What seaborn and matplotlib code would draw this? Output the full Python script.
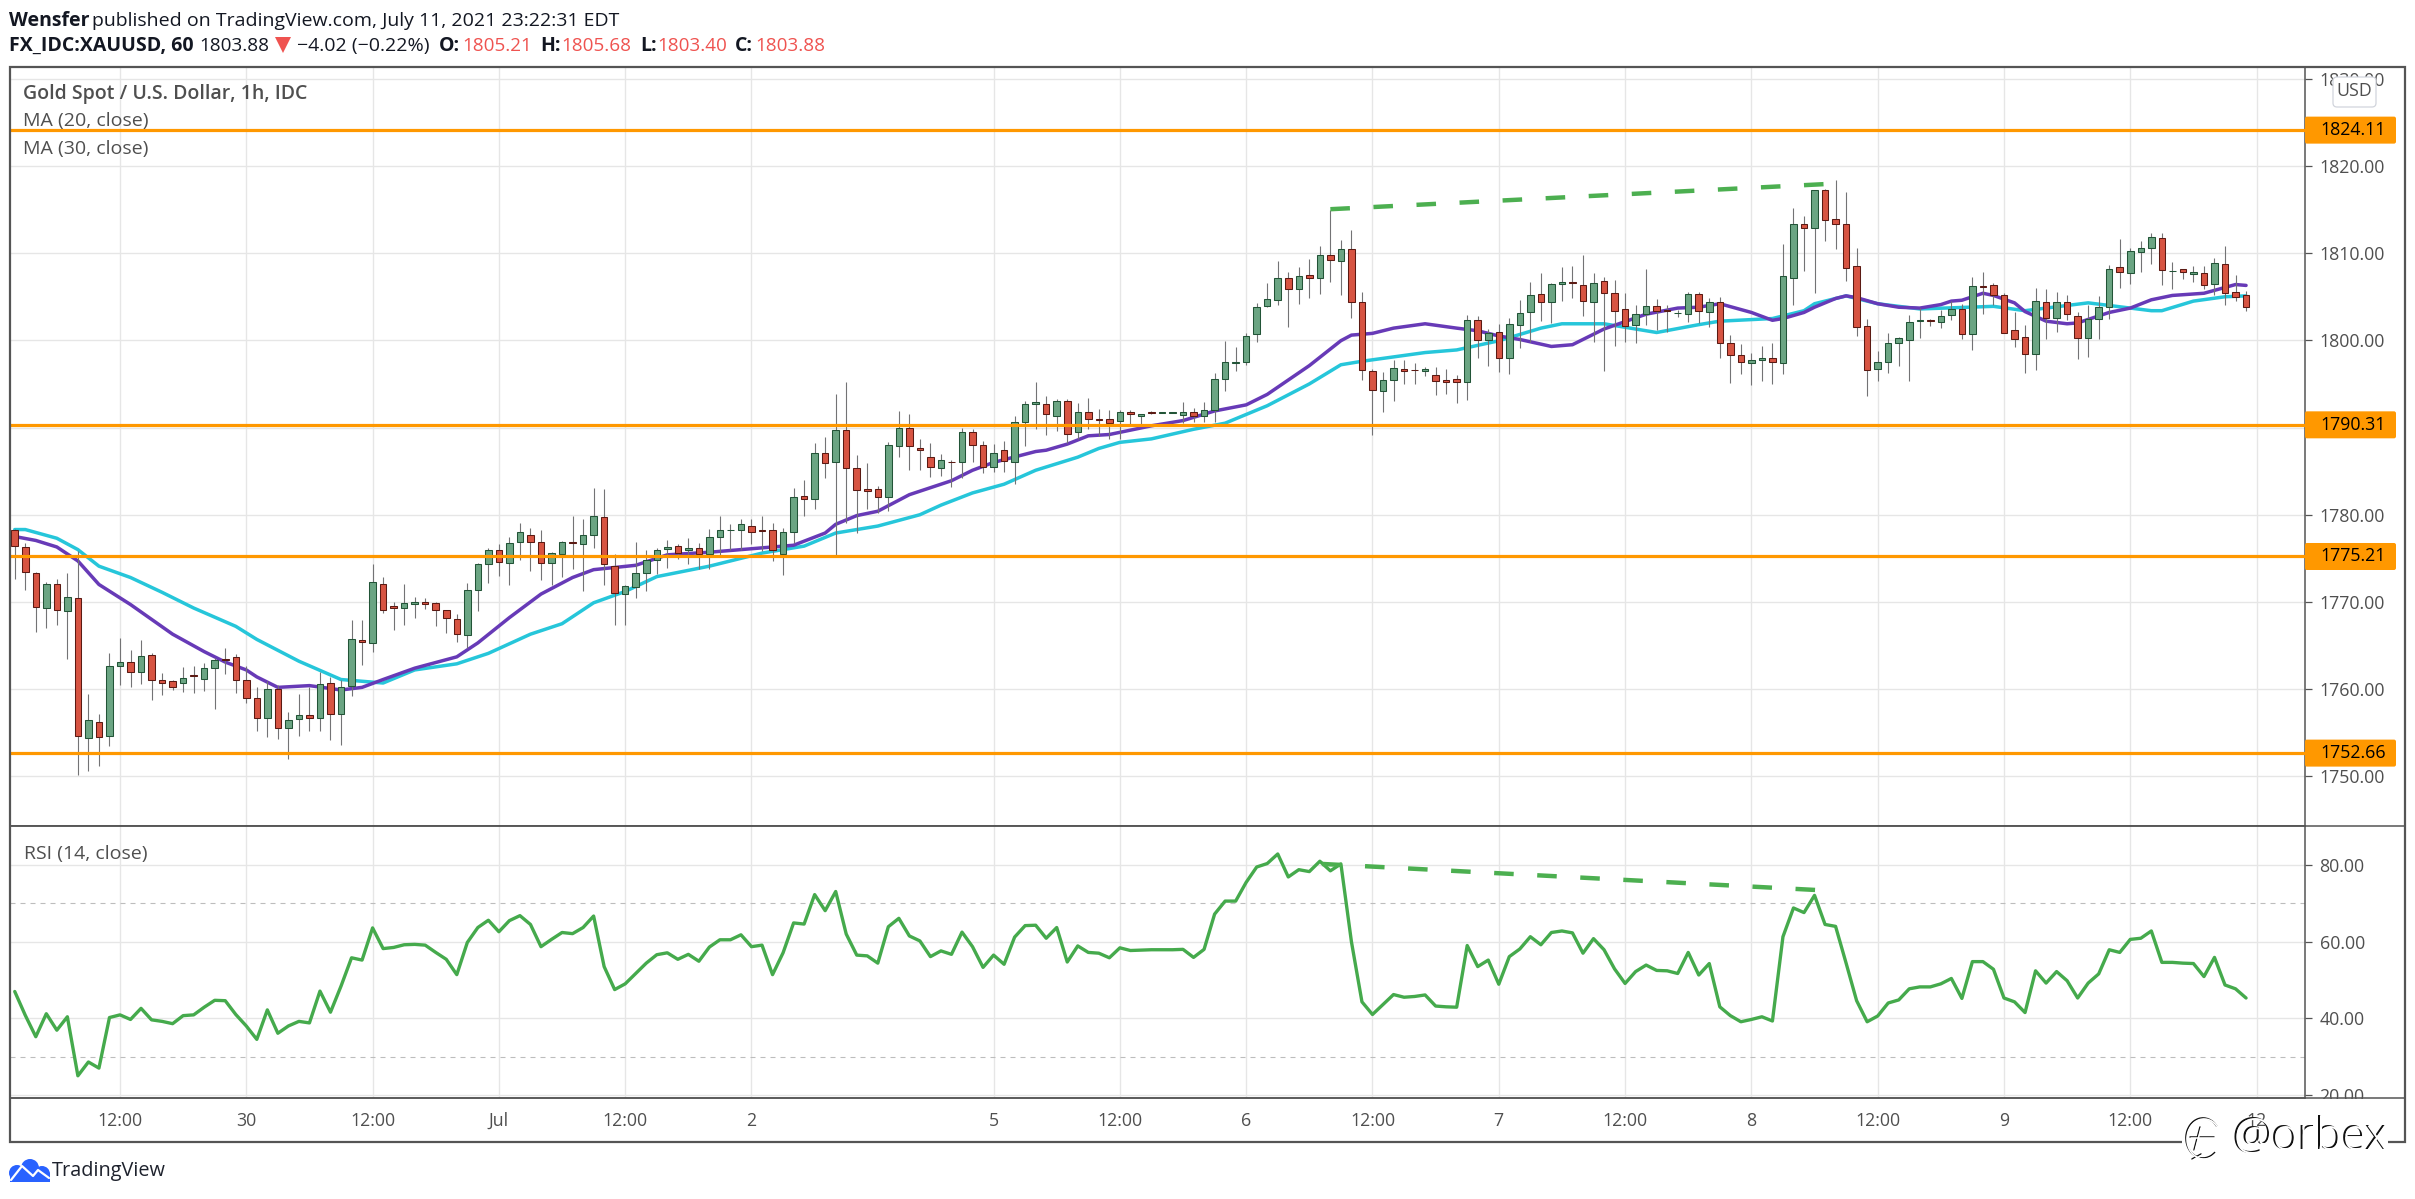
import matplotlib
matplotlib.use('Agg')
import matplotlib.pyplot as plt
import pandas as pd
import seaborn as sns
from matplotlib.lines import Line2D
from matplotlib.patches import Circle, FancyBboxPatch, PathPatch, Polygon, Rectangle
from matplotlib.path import Path
from matplotlib.transforms import Affine2D, IdentityTransform

# Hourly candles
opens = [
    1778.2, 1776.3, 1773.3, 1769.3, 1772.0, 1769.0, 1770.4, 1754.4, 1756.2, 1754.6,
    1762.7, 1763.1, 1762.0, 1763.9, 1761.0, 1760.9, 1760.7, 1761.6, 1761.2, 1762.4,
    1763.4, 1763.7, 1761.0, 1759.0, 1756.7, 1760.0, 1755.5, 1756.6, 1757.0, 1756.7,
    1760.7, 1757.1, 1760.3, 1765.6, 1765.3, 1772.0, 1769.5, 1769.3, 1769.8, 1770.0,
    1769.9, 1769.1, 1768.05, 1766.2, 1771.4, 1774.4, 1775.9, 1774.5, 1776.9, 1777.7,
    1776.9, 1774.5, 1775.5, 1776.9, 1776.7, 1777.7, 1779.7, 1774.1, 1770.9, 1771.7,
    1773.3, 1774.8, 1776.1, 1776.4, 1775.9, 1776.2, 1775.5, 1777.4, 1778.2, 1778.3,
    1778.7, 1778.2, 1778.2, 1775.5, 1778.05, 1782.1, 1781.8, 1787.1, 1786.0, 1789.7,
    1785.4, 1782.9, 1782.9, 1782.0, 1787.9, 1789.9, 1787.6, 1786.6, 1785.4, 1786.1,
    1786.0, 1789.5, 1788.05, 1785.5, 1787.4, 1786.1, 1790.6, 1792.65, 1792.65, 1791.3,
    1793.1, 1789.5, 1791.8, 1791.0, 1791.0, 1790.8, 1791.8, 1791.3, 1791.8, 1791.7,
    1791.7, 1791.4, 1791.8, 1791.3, 1792.0, 1795.6, 1797.4, 1797.5, 1800.7, 1803.9,
    1804.6, 1807.2, 1805.9, 1807.5, 1807.2, 1809.8, 1809.1, 1810.5, 1804.4, 1796.5,
    1794.2, 1795.4, 1796.7, 1796.6, 1796.5, 1796.0, 1795.4, 1795.6, 1795.2, 1802.3,
    1800.0, 1801.0, 1798.0, 1801.8, 1803.2, 1805.3, 1804.4, 1806.45, 1806.7, 1806.3,
    1804.4, 1806.8, 1805.4, 1803.6, 1801.75, 1803.0, 1803.9, 1803.5, 1803.1, 1803.0,
    1805.3, 1803.2, 1804.4, 1799.7, 1798.3, 1797.4, 1797.7, 1798.0, 1797.4, 1807.1,
    1813.3, 1812.9, 1817.3, 1813.9, 1813.3, 1808.5, 1801.6, 1796.7, 1797.5, 1799.7,
    1800.0, 1802.2, 1802.3, 1802.1, 1802.9, 1803.6, 1800.7, 1806.2, 1806.3, 1805.2,
    1801.2, 1800.4, 1798.4, 1804.4, 1802.55, 1804.4, 1802.8, 1800.3, 1802.4, 1803.8,
    1808.4, 1807.7, 1810.1, 1810.6, 1811.7, 1807.9, 1808.2, 1807.6, 1807.7, 1806.45,
    1808.7, 1805.5, 1805.21,
]
closes = [
    1776.4, 1773.4, 1769.4, 1772.0, 1769.1, 1770.6, 1754.6, 1756.4, 1754.5, 1762.7,
    1763.1, 1762.0, 1763.8, 1761.0, 1760.7, 1760.2, 1761.3, 1761.5, 1762.4, 1763.3,
    1763.3, 1761.0, 1759.0, 1756.7, 1760.0, 1755.5, 1756.4, 1757.0, 1756.7, 1760.6,
    1757.1, 1760.2, 1765.7, 1765.4, 1772.3, 1769.1, 1769.3, 1769.9, 1770.0, 1769.8,
    1769.1, 1768.2, 1766.3, 1771.4, 1774.3, 1776.0, 1774.6, 1776.8, 1778.0, 1776.9,
    1774.5, 1775.6, 1776.9, 1776.8, 1777.7, 1779.8, 1774.3, 1771.0, 1771.8, 1773.3,
    1774.8, 1776.0, 1776.3, 1775.6, 1776.2, 1775.5, 1777.4, 1778.3, 1778.3, 1778.9,
    1778.05, 1778.1, 1775.9, 1778.05, 1782.0, 1781.8, 1787.1, 1785.9, 1789.7, 1785.4,
    1782.8, 1782.7, 1782.0, 1788.05, 1790.0, 1787.9, 1787.4, 1785.5, 1786.3, 1786.0,
    1789.5, 1788.05, 1785.5, 1787.1, 1786.2, 1790.6, 1792.65, 1792.9, 1791.5, 1793.1,
    1789.3, 1791.8, 1791.0, 1790.9, 1790.5, 1791.8, 1791.6, 1791.6, 1791.7, 1791.75,
    1791.75, 1791.75, 1791.3, 1792.0, 1795.6, 1797.5, 1797.5, 1800.5, 1803.8, 1804.7,
    1807.2, 1805.9, 1807.4, 1807.2, 1809.8, 1809.2, 1810.5, 1804.4, 1796.6, 1794.3,
    1795.4, 1796.8, 1796.5, 1796.56, 1796.7, 1795.3, 1795.2, 1795.2, 1802.3, 1800.0,
    1800.8, 1798.0, 1801.9, 1803.1, 1805.2, 1804.4, 1806.45, 1806.7, 1806.6, 1804.5,
    1806.6, 1805.4, 1803.35, 1801.6, 1803.0, 1803.9, 1803.35, 1803.35, 1803.15, 1805.3,
    1803.35, 1804.4, 1799.7, 1798.3, 1797.5, 1797.7, 1798.0, 1797.5, 1807.4, 1813.3,
    1812.9, 1817.2, 1813.8, 1813.4, 1808.3, 1801.5, 1796.6, 1797.5, 1799.7, 1800.3,
    1802.1, 1802.3, 1802.25, 1802.8, 1803.6, 1800.7, 1806.2, 1806.15, 1805.2, 1800.8,
    1800.15, 1798.4, 1804.5, 1802.55, 1804.4, 1803.0, 1800.3, 1802.4, 1803.8, 1808.2,
    1807.8, 1810.3, 1810.6, 1811.9, 1808.05, 1808.0, 1807.8, 1807.8, 1806.3, 1808.85,
    1805.4, 1805.0, 1803.88,
]
highs = [
    1778.4, 1776.8, 1773.4, 1772.3, 1772.6, 1773.3, 1775.8, 1759.4, 1757.1, 1764.1,
    1765.9, 1764.5, 1765.6, 1764.1, 1761.8, 1761.0, 1762.5, 1762.6, 1763.0, 1763.6,
    1764.7, 1764.0, 1762.7, 1760.2, 1760.9, 1760.5, 1757.4, 1759.4, 1760.2, 1762.0,
    1761.4, 1761.1, 1767.9, 1767.9, 1774.4, 1772.9, 1770.0, 1772.1, 1770.6, 1770.4,
    1770.0, 1769.1, 1768.6, 1772.2, 1774.5, 1776.2, 1776.7, 1777.4, 1779.1, 1778.5,
    1778.3, 1775.7, 1777.0, 1779.9, 1779.5, 1783.1, 1782.9, 1775.5, 1771.9, 1776.9,
    1775.9, 1776.2, 1777.05, 1776.7, 1777.3, 1776.8, 1778.4, 1779.9, 1778.9, 1779.5,
    1779.5, 1779.8, 1779.0, 1778.5, 1783.1, 1784.0, 1788.2, 1788.9, 1793.9, 1795.2,
    1786.8, 1785.9, 1783.3, 1788.3, 1791.9, 1791.5, 1788.7, 1788.2, 1787.0, 1786.3,
    1790.0, 1789.8, 1788.5, 1788.1, 1788.4, 1791.3, 1793.1, 1795.2, 1793.6, 1793.3,
    1793.3, 1792.8, 1793.4, 1792.1, 1792.0, 1792.0, 1791.96, 1791.6, 1791.9, 1791.8,
    1791.8, 1792.9, 1792.2, 1792.9, 1796.3, 1799.9, 1799.2, 1800.8, 1804.3, 1806.6,
    1809.1, 1807.8, 1808.4, 1809.3, 1810.8, 1815.0, 1811.5, 1812.6, 1805.6, 1796.7,
    1796.4, 1797.7, 1797.7, 1797.4, 1796.9, 1796.9, 1796.7, 1796.0, 1802.9, 1802.8,
    1801.3, 1801.9, 1802.6, 1804.65, 1806.7, 1807.75, 1806.6, 1808.4, 1808.5, 1809.8,
    1807.75, 1807.25, 1806.9, 1805.4, 1804.1, 1808.2, 1804.7, 1804.1, 1803.5, 1805.6,
    1805.6, 1804.8, 1805.0, 1800.6, 1799.6, 1798.5, 1799.4, 1799.7, 1811.0, 1815.2,
    1814.3, 1817.2, 1817.4, 1818.4, 1817.0, 1810.6, 1802.4, 1798.8, 1800.8, 1800.4,
    1802.9, 1803.7, 1802.4, 1803.5, 1804.5, 1804.2, 1807.25, 1807.8, 1806.6, 1805.4,
    1803.2, 1801.75, 1806.0, 1805.9, 1805.6, 1805.2, 1803.2, 1804.0, 1805.1, 1808.6,
    1811.6, 1810.6, 1811.4, 1812.3, 1812.3, 1809.0, 1808.2, 1808.5, 1808.5, 1809.4,
    1810.8, 1807.5, 1805.68,
]
lows = [
    1772.6, 1771.4, 1766.6, 1767.0, 1767.3, 1763.4, 1750.2, 1750.6, 1751.2, 1753.5,
    1760.5, 1760.2, 1760.6, 1758.8, 1759.3, 1759.9, 1759.7, 1759.5, 1759.8, 1757.7,
    1761.7, 1759.6, 1758.4, 1755.2, 1754.5, 1754.3, 1752.0, 1754.6, 1755.2, 1755.2,
    1754.2, 1753.6, 1759.2, 1762.8, 1764.3, 1768.7, 1766.8, 1767.4, 1768.2, 1769.2,
    1767.2, 1766.4, 1765.4, 1764.7, 1769.0, 1772.2, 1773.0, 1771.9, 1774.8, 1773.6,
    1772.5, 1771.9, 1772.9, 1773.8, 1771.3, 1776.2, 1771.9, 1767.4, 1767.4, 1770.5,
    1771.3, 1773.2, 1773.9, 1774.9, 1774.4, 1773.8, 1773.8, 1775.4, 1776.0, 1776.0,
    1776.7, 1775.8, 1774.7, 1773.1, 1776.8, 1779.9, 1780.6, 1784.2, 1775.4, 1779.0,
    1777.9, 1780.6, 1780.2, 1780.4, 1786.6, 1785.1, 1785.1, 1784.3, 1784.4, 1783.2,
    1784.2, 1786.0, 1784.8, 1784.9, 1784.9, 1783.5, 1787.9, 1789.8, 1789.1, 1789.6,
    1788.2, 1788.7, 1789.8, 1789.05, 1788.7, 1788.7, 1790.4, 1790.4, 1791.5, 1791.65,
    1791.65, 1790.5, 1790.6, 1790.6, 1790.6, 1794.2, 1796.5, 1797.2, 1799.8, 1803.8,
    1804.0, 1801.5, 1804.2, 1804.9, 1805.3, 1806.7, 1805.2, 1802.6, 1795.5, 1789.2,
    1791.75, 1793.0, 1795.0, 1795.0, 1795.9, 1793.7, 1793.8, 1792.8, 1793.2, 1798.0,
    1797.1, 1796.4, 1796.1, 1799.1, 1799.8, 1802.25, 1802.0, 1804.5, 1804.8, 1802.8,
    1799.8, 1796.5, 1799.4, 1799.8, 1799.7, 1801.8, 1801.2, 1801.0, 1802.7, 1802.1,
    1802.0, 1801.5, 1798.0, 1795.1, 1796.1, 1794.9, 1795.3, 1795.0, 1796.1, 1804.0,
    1807.9, 1805.4, 1811.4, 1810.5, 1806.8, 1800.5, 1793.6, 1795.3, 1796.2, 1797.1,
    1795.3, 1800.3, 1801.7, 1801.4, 1802.3, 1800.2, 1798.9, 1803.05, 1804.0, 1800.8,
    1799.2, 1796.2, 1796.6, 1800.2, 1801.0, 1802.3, 1797.9, 1798.1, 1800.2, 1802.5,
    1806.0, 1806.5, 1807.8, 1808.7, 1806.4, 1805.9, 1807.0, 1806.7, 1805.9, 1805.2,
    1804.0, 1804.5, 1803.40,
]

# RSI, one value per bar
rsi = [
    47.0, 40.8, 35.2, 41.2, 36.9, 40.4, 25.0, 28.6, 27.0, 40.2,
    40.9, 39.7, 42.6, 39.6, 39.2, 38.6, 40.7, 40.9, 42.9, 44.7,
    44.6, 41.0, 38.0, 34.5, 42.2, 36.1, 38.0, 39.2, 38.8, 47.1,
    41.6, 48.4, 55.8, 55.2, 63.6, 58.2, 58.5, 59.2, 59.3, 59.1,
    57.2, 55.4, 51.4, 59.8, 63.7, 65.6, 62.6, 65.5, 66.8, 64.5,
    58.7, 60.6, 62.4, 62.1, 63.7, 66.7, 53.5, 47.5, 49.0, 51.7,
    54.4, 56.6, 57.1, 55.4, 56.7, 54.9, 58.6, 60.5, 60.5, 61.8,
    58.7, 59.1, 51.4, 57.1, 64.9, 64.6, 72.3, 68.1, 73.1, 62.0,
    56.5, 56.3, 54.4, 63.9, 66.1, 61.5, 60.2, 56.1, 57.6, 56.7,
    62.5, 58.7, 53.3, 56.5, 54.1, 61.2, 64.2, 64.3, 60.9, 63.7,
    54.7, 58.9, 57.2, 57.0, 55.8, 58.4, 57.7, 57.8, 57.9, 57.9,
    57.9, 58.0, 55.9, 58.0, 67.2, 70.6, 70.6, 75.5, 79.5, 80.4,
    82.9, 76.9, 78.8, 78.3, 81.0, 78.5, 80.3, 60.0, 44.3, 41.0,
    43.6, 46.2, 45.5, 45.7, 46.1, 43.2, 43.0, 42.9, 59.0, 53.5,
    55.2, 48.9, 56.1, 58.1, 61.3, 59.2, 62.4, 62.8, 62.3, 57.0,
    60.8, 57.9, 52.9, 49.1, 52.2, 53.9, 52.5, 52.4, 51.7, 57.2,
    51.3, 54.3, 43.0, 40.7, 39.1, 39.7, 40.4, 39.3, 61.3, 68.8,
    67.6, 72.1, 64.5, 64.0, 54.4, 44.6, 39.1, 40.6, 44.0, 44.8,
    47.7, 48.2, 48.2, 49.0, 50.4, 45.2, 54.8, 54.8, 52.8, 45.3,
    44.3, 41.5, 52.4, 49.2, 52.2, 49.8, 45.3, 49.2, 51.6, 57.9,
    57.2, 60.6, 60.9, 62.8, 54.6, 54.6, 54.4, 54.3, 50.9, 55.9,
    48.7, 47.7, 45.3,
]

# Moving averages, read at the bends of each line
ma20_bars = [0, 2, 4, 6, 8, 11, 13, 15, 18, 20, 22, 23, 25, 28, 31, 33, 35, 38, 42, 44,
             47, 50, 53, 55, 59, 62, 66, 71, 74, 77, 78, 80, 82, 85, 89, 91, 93, 97, 98, 100,
             102, 104, 108, 111, 114, 117, 119, 123, 126, 127, 129, 131, 134, 137, 139, 141, 143, 146, 148, 151,
             155, 158, 160, 162, 165, 167, 168, 170, 171, 173, 174, 175, 177, 179, 181, 183, 184, 185, 187, 188,
             190, 191, 193, 195, 196, 197, 199, 201, 203, 205, 208, 211, 212]
ma20_vals = [1777.5, 1777.05, 1776.3, 1774.7, 1772.0, 1769.7, 1768.0, 1766.3, 1764.3, 1763.1,
             1762.2, 1761.4, 1760.2, 1760.4, 1759.9, 1760.2, 1761.1, 1762.4, 1763.7, 1765.3,
             1768.2, 1770.9, 1772.8, 1773.7, 1774.2, 1775.4, 1775.7, 1776.2, 1776.5, 1777.9,
             1778.9, 1779.9, 1780.4, 1782.3, 1783.9, 1785.1, 1786.0, 1787.25, 1787.4, 1788.1,
             1789.05, 1789.2, 1790.2, 1790.8, 1791.9, 1792.6, 1793.8, 1797.1, 1799.96, 1800.6,
             1800.8, 1801.4, 1801.9, 1801.4, 1801.1, 1800.5, 1800.1, 1799.3, 1799.5, 1801.3,
             1803.0, 1803.7, 1803.8, 1804.2, 1803.2, 1802.3, 1802.5, 1803.2, 1803.8, 1804.8,
             1805.1, 1804.9, 1804.2, 1803.8, 1803.7, 1804.1, 1804.5, 1804.6, 1805.4, 1805.15,
             1804.3, 1803.3, 1802.2, 1801.9, 1802.0, 1802.4, 1803.2, 1803.7, 1804.65, 1805.15,
             1805.4, 1806.4, 1806.3]
ma30_bars = [0, 1, 4, 6, 8, 11, 14, 17, 21, 23, 27, 31, 35, 38, 42, 45, 49, 52, 55, 58,
             61, 66, 71, 75, 78, 82, 86, 88, 91, 94, 97, 101, 103, 105, 108, 112, 115, 119, 123, 126,
             128, 134, 137, 141, 145, 147, 151, 156, 160, 162, 167, 170, 171, 173, 174, 177, 181, 188, 191, 197,
             203, 204, 207, 210, 212]
ma30_vals = [1778.3, 1778.3, 1777.3, 1776.0, 1774.1, 1772.8, 1771.1, 1769.3, 1767.2, 1765.7,
             1763.2, 1761.1, 1760.7, 1762.2, 1762.9, 1764.1, 1766.3, 1767.5, 1769.9, 1771.2,
             1772.9, 1774.1, 1775.6, 1776.4, 1777.9, 1778.7, 1780.0, 1781.1, 1782.5, 1783.5,
             1785.1, 1786.6, 1787.6, 1788.3, 1788.7, 1789.8, 1790.5, 1792.5, 1795.0, 1797.2,
             1797.6, 1798.6, 1798.9, 1799.95, 1801.4, 1801.9, 1801.9, 1800.9, 1801.8, 1802.2,
             1802.5, 1803.4, 1804.2, 1804.8, 1805.1, 1804.2, 1803.6, 1803.9, 1803.4, 1804.3,
             1803.4, 1803.4, 1804.5, 1805.0, 1805.1]

# Drawn lines on the chart
levels = [1824.11, 1790.31, 1775.21, 1752.66]
price_trend_bars = [125, 172.8]
price_trend_vals = [1815.04, 1817.97]
rsi_trend_bars = [124.2, 171.8]
rsi_trend_vals = [80.3, 73.4]

# Axis labels
price_ticks = [1750, 1760, 1770, 1780, 1790, 1800, 1810, 1820, 1830]
price_tick_labels = ['1750.00', '1760.00', '1770.00', '1780.00', '', '1800.00', '1810.00', '1820.00', '1830.00']
rsi_ticks = [20, 40, 60, 80]
rsi_tick_labels = ['20.00', '40.00', '60.00', '80.00']
x_ticks = [10, 22, 34, 46, 58, 70, 93, 105, 117, 129, 141, 153, 165, 177, 189, 201, 213]
x_tick_labels = ['12:00', '30', '12:00', 'Jul', '12:00', '2', '5', '12:00', '6', '12:00',
                 '7', '12:00', '8', '12:00', '9', '12:00', '12']

W, H = 2415, 1199
FRAME = '#555555'
GRID = '#e6e6e6'
TXT = '#4f4f4f'
ORANGE = '#ff9800'
FS = 12.8
FS_HEAD = 14

sns.set_theme(style='white')
plt.rcParams['font.family'] = ['Open Sans', 'DejaVu Sans']

fig = plt.figure(figsize=(W / 100, H / 100), dpi=100, facecolor='white')
px = IdentityTransform()


def pane(x0, y0, x1, y1):
    return fig.add_axes([x0 / W, 1 - y1 / H, (x1 - x0) / W, (y1 - y0) / H])


def label(x, y, s, color='#131722', size=FS, weight='normal', ha='left', zorder=10):
    return fig.text(x, H - y, s, color=color, fontsize=size, fontweight=weight, ha=ha,
                    va='center', transform=px, zorder=zorder)


ax_price = pane(10, 67, 2305, 826)
ax_rsi = pane(10, 826, 2305, 1098)

df = pd.DataFrame({'bar': range(len(opens)), 'open': opens, 'high': highs, 'low': lows, 'close': closes, 'rsi': rsi})
up = df[df['close'] >= df['open']]
down = df[df['close'] < df['open']]

# Price pane
sns.lineplot(x=ma30_bars, y=ma30_vals, ax=ax_price, color='#26c6da', linewidth=2.5, zorder=2)
sns.lineplot(x=ma20_bars, y=ma20_vals, ax=ax_price, color='#673ab7', linewidth=2.5, zorder=2.1)
ax_price.vlines(df['bar'], df['low'], df['high'], colors='#737375', linewidth=0.8, zorder=2.5)
ax_price.bar(up['bar'], up['close'] - up['open'], bottom=up['open'], width=0.62,
             color='#6ba583', edgecolor='#225437', linewidth=0.75, zorder=3)
ax_price.bar(down['bar'], down['close'] - down['open'], bottom=down['open'], width=0.62,
             color='#d75442', edgecolor='#5b1a13', linewidth=0.75, zorder=3)
for lvl in levels:
    ax_price.axhline(lvl, color=ORANGE, linewidth=2.3, zorder=5)
sns.lineplot(x=price_trend_bars, y=price_trend_vals, ax=ax_price, color='#4caf50', linewidth=3.2,
             linestyle=(0, (4.4, 5.3)), zorder=5)

# RSI pane
for band in [70, 30]:
    ax_rsi.axhline(band, color='#bdbdbd', linewidth=0.8, linestyle=(0, (4.5, 4.5)), zorder=1.5)
sns.lineplot(data=df, x='bar', y='rsi', ax=ax_rsi, color='#45aa4c', linewidth=2.4, zorder=3)
sns.lineplot(x=rsi_trend_bars, y=rsi_trend_vals, ax=ax_rsi, color='#4caf50', linewidth=3.2,
             linestyle=(0, (4.4, 5.3)), zorder=4)

ax_price.set_ylim(1744.3, 1831.35)
ax_rsi.set_ylim(19.2, 90.2)
ax_price.set_yticks(price_ticks, price_tick_labels)
ax_price.set_yticks(levels, minor=True)
ax_rsi.set_yticks(rsi_ticks, rsi_tick_labels)

for ax in [ax_price, ax_rsi]:
    ax.set_xlim(-0.45, 217.6)
    ax.set_xticks(x_ticks)
    ax.set_xlabel('')
    ax.set_ylabel('')
    ax.grid(True, color=GRID, linewidth=1.0)
    ax.set_axisbelow(True)
    ax.yaxis.tick_right()
    ax.tick_params(axis='y', which='both', length=5, width=0.9, color=FRAME, pad=5.5,
                   labelsize=FS, labelcolor=TXT)
    for side in ax.spines:
        ax.spines[side].set_color(FRAME)
        ax.spines[side].set_linewidth(1.1)
ax_price.tick_params(axis='x', length=0, labelbottom=False)
ax_rsi.set_xticklabels(x_tick_labels)
ax_rsi.tick_params(axis='x', length=5.5, width=0.9, color=FRAME, pad=4.5, labelsize=FS, labelcolor=TXT)

# Hide the lower half of the last RSI label under the time axis
fig.add_artist(Rectangle((2306, H - 1142), 98, 43, facecolor='white', edgecolor='none',
                         transform=px, zorder=2))
for y in [826, 1098]:
    fig.add_artist(Line2D([10, 2405], [H - y, H - y], color=FRAME, linewidth=1.1, transform=px, zorder=3))
fig.add_artist(Rectangle((10, H - 1142), 2395, 1075, facecolor='none', edgecolor=FRAME, linewidth=1.6,
                         transform=px, zorder=3))

# Orange price tags
for lvl in levels:
    y = ax_price.transData.transform((0, lvl))[1]
    fig.add_artist(FancyBboxPatch((2305, y - 13.5), 91, 27, boxstyle='round,pad=0,rounding_size=2',
                                  facecolor=ORANGE, edgecolor='none', transform=px, zorder=4))
    label(2320, H - y, f'{lvl:.2f}', color='#000000')

# USD box
fig.add_artist(FancyBboxPatch((2333, H - 107), 43, 30, boxstyle='round,pad=0,rounding_size=4',
                              facecolor='white', edgecolor='#d1d4dc', linewidth=0.9, transform=px, zorder=4))
label(2354.5, 91, 'USD', color=TXT, ha='center')

# Header
label(9, 21, 'Wensfer', weight='bold', size=FS_HEAD)
label(92, 21, 'published on TradingView.com, July 11, 2021 23:22:31 EDT', size=FS_HEAD)
label(9, 46, 'FX_IDC:XAUUSD, 60', weight='bold', size=FS_HEAD)
label(199, 46, '1803.88', size=13.6)
fig.add_artist(Polygon([(275, H - 37), (291, H - 37), (283, H - 53)], facecolor='#ef5350', edgecolor='none',
                       transform=px, zorder=4))
label(297, 46, '\u22124.02 (\u22120.22%)', size=FS_HEAD)
for tx, tag, vx, val in [(439, 'O:', 462, '1805.21'), (540, 'H:', 561, '1805.68'),
                         (640, 'L:', 657, '1803.40'), (735, 'C:', 755, '1803.88')]:
    label(tx, 46, tag, weight='bold', size=FS_HEAD)
    label(vx, 46, val, color='#ef5350', size=13.6)

# Pane titles
label(23, 94, 'Gold Spot / U.S. Dollar, 1h, IDC', color=TXT, weight='semibold', size=FS_HEAD)
label(23, 121, 'MA (20, close)', color=TXT, size=FS_HEAD)
label(23, 149, 'MA (30, close)', color=TXT, size=FS_HEAD)
label(24, 854, 'RSI (14, close)', color=TXT, size=FS_HEAD)

# TradingView logo
for cx, cy, r in [(17, 1173, 8), (30, 1168, 9), (42, 1174, 8)]:
    fig.add_artist(Circle((cx, H - cy), r, facecolor='#2962ff', edgecolor='none', transform=px, zorder=4))
fig.add_artist(Rectangle((10, H - 1182), 40, 9, facecolor='#2962ff', edgecolor='none', transform=px, zorder=4))
fig.add_artist(Line2D([11, 22, 33, 38, 49], [H - 1180, H - 1166, H - 1176, H - 1170, H - 1178], color='white',
                      linewidth=1.6, transform=px, zorder=5))
label(52, 1171, 'TradingView', color='#1e222d', size=14.3)

# Watermark with its embossed look
fig.add_artist(Rectangle((2182, H - 1160), 206, 29, facecolor='white', edgecolor='none', transform=px, zorder=6))
bubble = Path.arc(35, 315).transformed(Affine2D().scale(17, 20).translate(2203, H - 1138))
for off, col in [(0, '#111111'), (1.0, '#ffffff')]:
    move = Affine2D().translate(off, -off)
    fig.add_artist(PathPatch(bubble, facecolor='none', edgecolor=col, linewidth=1.2,
                             transform=move, zorder=7))
    for xs, ys in [([2190, 2214], [1137, 1137]), ([2194, 2200], [1150, 1127]), ([2192, 2201], [1159, 1154])]:
        fig.add_artist(Line2D([x + off for x in xs], [H - y - off for y in ys], color=col, linewidth=1.1,
                              transform=px, zorder=7))
    fig.text(2232 + off, H - 1137 - off, '@orbex', color=col, fontsize=32, fontweight='light', ha='left',
             va='center', transform=px, zorder=7)

fig.savefig('out.png', dpi=100, facecolor='white')
